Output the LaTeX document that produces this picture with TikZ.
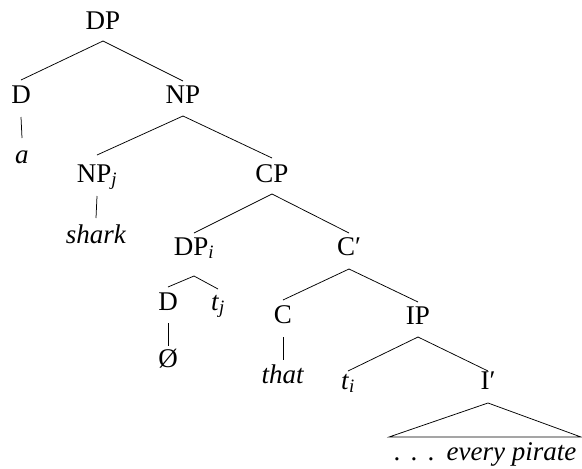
\documentclass[tikz,border=0pt]{standalone}
\usepackage{fontspec}
\setmainfont{Liberation Serif}
\begin{document}
\begin{tikzpicture}[x=1pt,y=-1pt,
  lab/.style={font=\fontsize{27}{32}\selectfont, inner sep=0pt, anchor=base},
  edge/.style={line width=0.75pt}]
\useasboundingbox (0,0) rectangle (582,469);
\node[lab] (dp) at (103,29) {DP};
\node[lab] (d) at (21,103) {D};
\node[lab] (np) at (183,103) {NP};
\node[lab] (a) at (22,163) {\textit{a}};
\node[lab] (npj) at (97,182) {NP\textsubscript{\textit{j}}};
\node[lab] (cp) at (272,182) {CP};
\node[lab] (shark) at (96,243) {\textit{shark}};
\node[lab] (dpi) at (194,255) {DP\textsubscript{\textit{i}}};
\node[lab] (cbar) at (349,255) {C′};
\node[lab] (dd) at (168,310) {D};
\node[lab] (tj) at (218,310) {\textit{t}\textsubscript{\textit{j}}};
\node[lab] (zero) at (168,367) {Ø};
\node[lab] (c) at (283,323) {C};
\node[lab] (ip) at (418,324) {IP};
\node[lab] (that) at (283,383) {\textit{that}};
\node[lab] (ti) at (348,389) {\textit{t}\textsubscript{\textit{i}}};
\node[lab] (ibar) at (488,389) {I′};
\node[lab] (txt) at (485,460) {.\kern0.38em.\kern0.38em.\kern0.45em\textit{every pirate}};
\coordinate (apex) at ([yshift=-14pt]ibar.base);
\coordinate (bl) at (389,437);
\coordinate (br) at (581,437);

\draw[edge] ([yshift=-12pt]dp.base) -- ([yshift=23pt]d.base);
\draw[edge] ([yshift=-12pt]dp.base) -- ([yshift=22pt]np.base);
\draw[edge] ([yshift=-14pt]d.base) -- ([yshift=25pt]a.base);
\draw[edge] ([yshift=-13pt]np.base) -- ([yshift=27pt]npj.base);
\draw[edge] ([yshift=-13pt]np.base) -- ([yshift=24pt]cp.base);
\draw[edge] ([yshift=-14pt]npj.base) -- ([yshift=25pt]shark.base);
\draw[edge] ([yshift=-12pt]cp.base) -- ([yshift=22pt]dpi.base);
\draw[edge] ([yshift=-12pt]cp.base) -- ([yshift=22pt]cbar.base);
\draw[edge] ([yshift=-21pt]dpi.base) -- ([yshift=23pt]dd.base);
\draw[edge] ([yshift=-21pt]dpi.base) -- ([yshift=21pt]tj.base);
\draw[edge] ([yshift=-13pt]dd.base) -- ([yshift=21pt]zero.base);
\draw[edge] ([yshift=-14pt]cbar.base) -- ([yshift=23pt]c.base);
\draw[edge] ([yshift=-14pt]cbar.base) -- ([yshift=22pt]ip.base);
\draw[edge] ([yshift=-14pt]c.base) -- ([yshift=23pt]that.base);
\draw[edge] ([yshift=-13pt]ip.base) -- ([yshift=18pt]ti.base);
\draw[edge] ([yshift=-13pt]ip.base) -- ([yshift=18pt]ibar.base);
\draw[edge] (apex) -- (bl) -- (br) -- cycle;
\end{tikzpicture}
\end{document}
